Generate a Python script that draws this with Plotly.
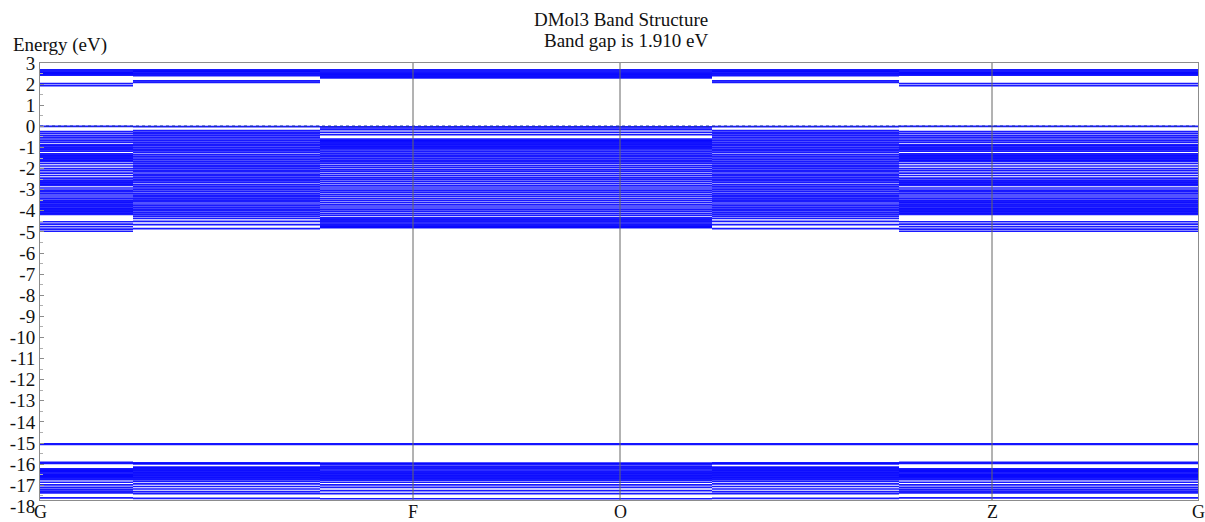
import plotly.graph_objects as go

# High-symmetry points along the k-path (cumulative path length)
k_sym = [0.0, 0.373, 0.580, 0.952, 1.158]
k_labels = ["G", "F", "O", "Z", "G"]

# k-intervals along the path and the energy table that holds on each
k_edges = [0.0, 0.093, 0.280, 0.672, 0.859, 1.158]
region_table = ["G", "M", "F", "M", "G"]

# Conduction bands (eV)
cond_G = [1.93, 2.03, 2.42, 2.47, 2.52, 2.57, 2.62, 2.67]
cond_M = [2.08, 2.15, 2.40, 2.46, 2.52, 2.58, 2.63, 2.68]
cond_F = [2.30, 2.35, 2.40, 2.46, 2.50, 2.57, 2.62, 2.67]

# Valence bands (eV)
val_G = [0.00,
         -0.25, -0.35, -0.45, -0.55, -0.65, -0.75,
         -0.87, -0.93, -0.99, -1.05, -1.11, -1.17, -1.30, -1.36, -1.42, -1.48, -1.54, -1.60, -1.66,
         -1.76, -1.88, -2.00, -2.10, -2.22, -2.33, -2.45, -2.55,
         -2.62, -2.68, -2.74, -2.80,
         -2.92, -3.02, -3.10, -3.20, -3.30, -3.40, -3.50,
         -3.57, -3.63, -3.69, -3.75, -3.81, -3.87, -3.93, -3.99, -4.05, -4.11, -4.17,
         -4.52, -4.63, -4.75, -4.87, -4.97]
val_M = [-0.01,
         -0.20, -0.28, -0.36, -0.44, -0.52, -0.60, -0.68, -0.76, -0.84, -0.92,
         -1.00, -1.08, -1.16, -1.24, -1.34, -1.42, -1.50, -1.58, -1.66, -1.74,
         -1.84, -1.92, -2.00, -2.08, -2.16, -2.26, -2.34, -2.42, -2.50, -2.58,
         -2.66, -2.76, -2.84, -2.92, -3.00, -3.08, -3.18, -3.26, -3.34, -3.42,
         -3.50, -3.58, -3.68, -3.76, -3.84, -3.92, -4.00, -4.10, -4.18, -4.26,
         -4.36, -4.50, -4.66, -4.85]
val_F = [-0.02,
         -0.08, -0.16, -0.28, -0.39,
         -0.60, -0.65, -0.70, -0.76, -0.82, -0.88, -0.94, -1.00, -1.06, -1.12, -1.20, -1.28, -1.36, -1.44, -1.52, -1.60, -1.68, -1.76,
         -1.86, -1.96, -2.06, -2.14, -2.24, -2.34, -2.44, -2.52, -2.62, -2.72, -2.82, -2.92, -3.02, -3.12, -3.22,
         -3.32, -3.42, -3.52, -3.62, -3.72, -3.82, -3.92, -4.02, -4.12, -4.22,
         -4.34, -4.40, -4.46, -4.52, -4.58, -4.64, -4.70, -4.76, -4.80]

# Isolated semi-core level (eV)
semicore = [-15.03, -15.07]

# Semi-core manifold (eV)
core_G = [-15.92, -15.97, -16.22, -16.27, -16.32, -16.37, -16.42, -16.47, -16.52, -16.57,
          -16.62, -16.68, -16.74, -16.86, -16.98, -17.10, -17.20, -17.28, -17.36, -17.60]
core_M = [-15.94, -15.99, -16.14, -16.20, -16.26, -16.32, -16.38, -16.44, -16.50, -16.56,
          -16.62, -16.68, -16.74, -16.82, -16.94, -17.06, -17.18, -17.30, -17.40, -17.62]
core_F = [-15.95, -16.00, -16.10, -16.16, -16.22, -16.28, -16.34, -16.40, -16.46, -16.52,
          -16.58, -16.64, -16.70, -16.76, -16.86, -16.98, -17.10, -17.26, -17.40, -17.64]

y_ticks = list(range(3, -18, -1))
y_range = [-17.7, 3.0]

SERIF = "Liberation Serif"
BAND_COLOR = "rgba(0,0,255,0.9)"
BAND_WIDTH = 1.7


def band_segments(tables):
    """Horizontal band pieces on each k-interval, joined into one polyline broken by None."""
    xs, ys = [], []
    for i, t in enumerate(region_table):
        k0, k1 = k_edges[i], k_edges[i + 1]
        for e in tables[t]:
            xs += [k0, k1, None]
            ys += [e, e, None]
    return xs, ys


fig = go.Figure()

groups = [
    {"G": cond_G, "M": cond_M, "F": cond_F},
    {"G": val_G, "M": val_M, "F": val_F},
    {"G": core_G, "M": core_M, "F": core_F},
]
for g in groups:
    xs, ys = band_segments(g)
    fig.add_trace(go.Scatter(x=xs, y=ys, mode="lines",
                             line=dict(color=BAND_COLOR, width=BAND_WIDTH),
                             hoverinfo="skip", showlegend=False))

# flat semi-core level
for e in semicore:
    fig.add_trace(go.Scatter(x=[k_sym[0], k_sym[-1]], y=[e, e], mode="lines",
                             line=dict(color=BAND_COLOR, width=1.4),
                             hoverinfo="skip", showlegend=False))

# valence band maximum reference
fig.add_trace(go.Scatter(x=[k_sym[0], k_sym[-1]], y=[0, 0], mode="lines",
                         line=dict(color="#1b2fb5", width=1.5, dash="dot"),
                         hoverinfo="skip", showlegend=False))

# vertical separators at interior high-symmetry points
for k in k_sym[1:-1]:
    fig.add_shape(type="line", xref="x", yref="paper", x0=k, x1=k, y0=0, y1=1,
                  line=dict(color="#666666", width=1), layer="above")

fig.update_xaxes(
    range=[k_sym[0], k_sym[-1]],
    tickvals=k_sym, showticklabels=False,
    ticks="", showgrid=False, zeroline=False, automargin=False,
    showline=True, linecolor="#8c8c8c", linewidth=1, mirror=True,
)
fig.update_yaxes(
    range=y_range,
    tickvals=y_ticks, ticktext=[str(v) for v in y_ticks],
    ticks="inside", ticklen=4, tickcolor="#8c8c8c",
    minor=dict(ticks="inside", ticklen=3, dtick=0.5, tickcolor="#b0b0b0"),
    showgrid=False, zeroline=False, automargin=False,
    showline=True, linecolor="#8c8c8c", linewidth=1, mirror=True,
    tickfont=dict(family=SERIF, size=19, color="#111"),
)

# high-symmetry point labels under the axis
for k, lab in zip(k_sym, k_labels):
    fig.add_annotation(text=lab, xref="x", yref="paper", x=k, y=-12 / 437,
                       xanchor="center", yanchor="middle", showarrow=False,
                       font=dict(family=SERIF, size=18, color="#111"))

# bottom energy label sitting just below the plotted window
span = y_range[1] - y_range[0]
fig.add_annotation(text="-18", xref="paper", yref="paper",
                   x=0, y=(-18 - y_range[0]) / span,
                   xanchor="right", yanchor="middle", xshift=-3, showarrow=False,
                   font=dict(family=SERIF, size=19, color="#111"))

fig.add_annotation(text="Energy (eV)", xref="paper", yref="paper",
                   x=-29 / 1158, y=1 + 18 / 437, xanchor="left", yanchor="middle",
                   showarrow=False, font=dict(family=SERIF, size=19, color="#111"))
fig.add_annotation(text="DMol3 Band Structure", xref="paper", yref="paper",
                   x=670 / 1158, y=1 + 43 / 437, xanchor="right", yanchor="middle",
                   showarrow=False, font=dict(family=SERIF, size=19, color="#111"))
fig.add_annotation(text="Band gap is 1.910 eV", xref="paper", yref="paper",
                   x=670 / 1158, y=1 + 22 / 437, xanchor="right", yanchor="middle",
                   showarrow=False, font=dict(family=SERIF, size=19, color="#111"))

fig.update_layout(
    width=1205, height=522,
    margin=dict(l=40, r=7, t=63, b=22),
    plot_bgcolor="white", paper_bgcolor="white",
    showlegend=False,
)

fig.write_html("out.html")
